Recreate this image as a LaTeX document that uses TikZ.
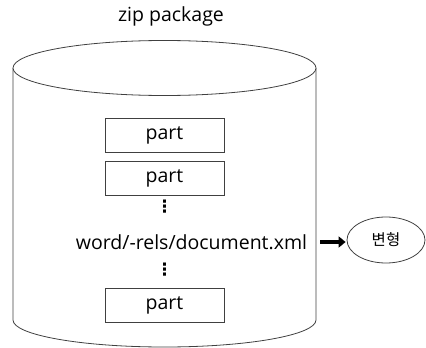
\documentclass[tikz,border=0pt]{standalone}
\usepackage{fontspec}
\setmainfont{Open Sans}
\newfontfamily\kofont{Noto Sans CJK KR}
\newfontfamily\dvfont{DejaVu Sans}
\usetikzlibrary{arrows.meta,shapes.geometric}
\begin{document}
\begin{tikzpicture}[x=1pt,y=-1pt,
  partbox/.style={draw=black!75,line width=0.8pt,minimum width=119pt,minimum height=34pt,inner sep=0pt,font=\fontsize{19.5}{22}\selectfont},
  lbl/.style={inner sep=0pt,font=\fontsize{19.5}{22}\selectfont},
  dotsl/.style={inner sep=0pt,font=\dvfont\bfseries\fontsize{17}{18}\selectfont},
  cyl/.style={draw=black!75,line width=0.8pt}]
\useasboundingbox (0,0) rectangle (426,348);
% cylinder
\draw[cyl] (13,68) -- (13,320) arc[start angle=180,end angle=360,x radius=151.5,y radius=-27] -- (316,68);
\draw[cyl,fill=white] (164.5,68) ellipse[x radius=151.5,y radius=27.5];
\node[lbl] (title) at (171,16) {zip package};
\node[partbox] (p1) at (164.5,135) {part};
\node[partbox] (p2) at (164.5,178) {part};
\node[dotsl] (d1) at (164.5,207) {⋮};
\node[lbl] (doc) at (191.5,242) {word/-rels/document.xml};
\node[dotsl] (d2) at (164.5,270) {⋮};
\node[partbox] (p3) at (164.5,305) {part};
\node[draw=black!75,line width=0.8pt,ellipse,minimum width=78pt,minimum height=46pt,inner sep=0pt,font=\kofont\fontsize{15.5}{17}\selectfont] (bh) at (386,240) {변형};
\coordinate (a0) at (320,242);
\draw[line width=4pt,-{Triangle[length=7pt,width=11pt]}] (a0) -- ([xshift=-1pt]bh.west|-a0);
\end{tikzpicture}
\end{document}
